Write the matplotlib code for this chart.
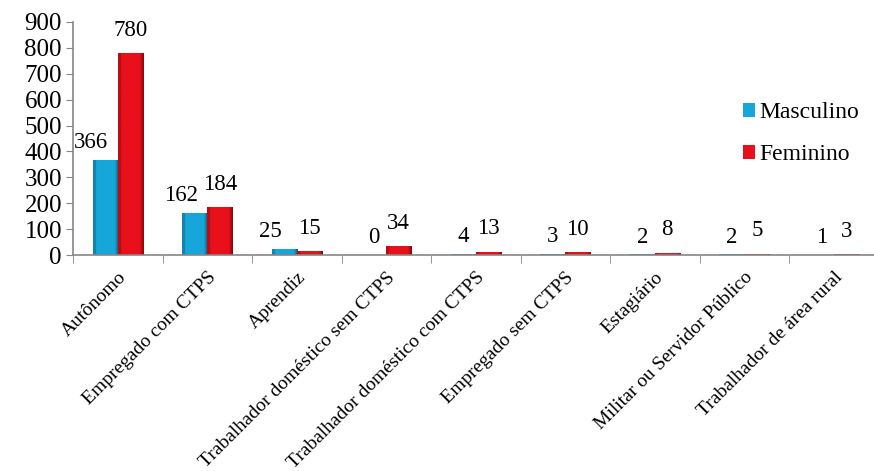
import matplotlib.pyplot as plt
import numpy as np
from matplotlib.colors import to_rgb

categorias = ['Autônomo', 'Empregado com CTPS', 'Aprendiz',
              'Trabalhador doméstico sem CTPS', 'Trabalhador doméstico com CTPS',
              'Empregado sem CTPS', 'Estagiário', 'Militar ou Servidor Público',
              'Trabalhador de área rural']
masculino = [366, 162, 25, 0, 4, 3, 2, 2, 1]
feminino = [780, 184, 15, 34, 13, 10, 8, 5, 3]

plt.rcParams['font.family'] = ['Liberation Serif', 'DejaVu Serif']

fig = plt.figure(figsize=(8.74, 4.71), dpi=100)
ax = fig.add_axes([73/874, 1-255/471, 805.5/874, 233/471])

x = np.arange(len(categorias))
w = 0.28
azul = '#17A6D9'
verm = '#E8101A'
b1 = ax.bar(x - w/2, masculino, w, color=azul, edgecolor='none', label='Masculino')
b2 = ax.bar(x + w/2, feminino, w, color=verm, edgecolor='none', label='Feminino')


def bevel(bars, cor):
    # leve sombreado horizontal para imitar o efeito 3D do Excel
    c = np.array(to_rgb(cor))
    t = np.linspace(0, 1, 50)
    fator = np.where(t < 0.12, 0.8, np.where(t > 0.85, 0.55 + 0.45 * (1 - t) / 0.15, 1.0))
    img = np.clip(c[None, None, :] * fator[None, :, None], 0, 1)
    for b in bars:
        if b.get_height() <= 0:
            continue
        x0, w0, h0 = b.get_x(), b.get_width(), b.get_height()
        im = ax.imshow(img, extent=[x0, x0 + w0, 0, h0], aspect='auto', zorder=b.get_zorder() + 0.1)
        im.set_clip_path(b)


bevel(b1, azul)
bevel(b2, verm)

for xi, v in zip(x, masculino):
    dx = -10 if v > 20 else 0
    ax.annotate(str(v), (xi - w/2, v), xytext=(dx, 5), textcoords='offset points',
                ha='center', va='bottom', fontsize=16.5)
for xi, v in zip(x, feminino):
    ax.annotate(str(v), (xi + w/2, v), xytext=(0, 9), textcoords='offset points',
                ha='center', va='bottom', fontsize=16.5)

ax.set_xlim(-0.5, len(categorias) - 0.5)
ax.set_ylim(0, 900)
ax.set_yticks(range(0, 901, 100))
ax.tick_params(axis='y', labelsize=18, length=5, color='#868686', pad=3)

ax.set_xticks(x)
ax.set_xticklabels(categorias, rotation=45, ha='right', rotation_mode='anchor', fontsize=14)
ax.tick_params(axis='x', length=0, pad=10)
ax.set_xticks(np.arange(-0.5, len(categorias), 1), minor=True)
ax.tick_params(axis='x', which='minor', length=6, color='#868686')

for s in ['top', 'right']:
    ax.spines[s].set_visible(False)
for s in ['left', 'bottom']:
    ax.spines[s].set_color('#868686')
    ax.spines[s].set_linewidth(1.2)

ax.legend(loc='upper left', bbox_to_anchor=(722/874, 1-81/471), bbox_transform=fig.transFigure,
          frameon=False, fontsize=17, handlelength=0.5, handleheight=0.5,
          handletextpad=0.2, labelspacing=0.9)

fig.savefig('out.png', dpi=100)
